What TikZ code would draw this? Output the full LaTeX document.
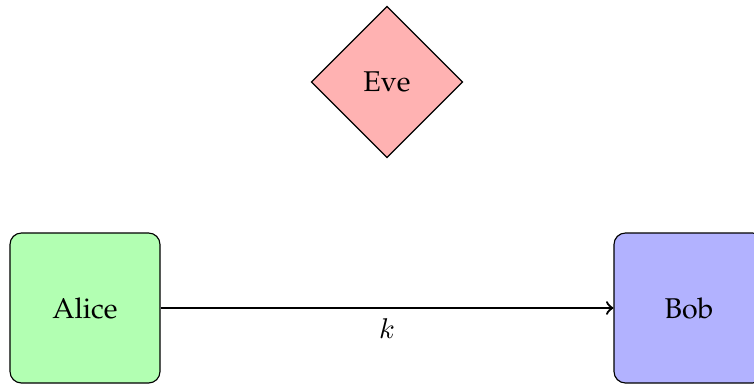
\documentclass[tikz,border=0pt]{standalone}
\usepackage[T1]{fontenc}
\usepackage{palatino}
\usetikzlibrary{shapes.geometric}

\tikzset{
  party/.style={draw, rounded corners, minimum size=52.5pt, inner sep=0pt},
  spy/.style={draw, diamond, fill=red!30, minimum size=53pt, inner sep=0pt},
  channel/.style={->, thick}
}

\begin{document}
\begin{tikzpicture}
  \useasboundingbox (-29.75pt,-26.25pt) rectangle (234.15pt,107.8pt);
  % the two parties and the eavesdropper
  \node[party, fill=green!30] (alice) at (0,0) {Alice};
  \node[party, fill=blue!30] (bob) at (211.4pt,0) {Bob};
  \node[spy] (eve) at (105.7pt,79.1pt) {Eve};
  \draw[channel] (alice) -- node[below] {$k$} (bob);
\end{tikzpicture}
\end{document}
